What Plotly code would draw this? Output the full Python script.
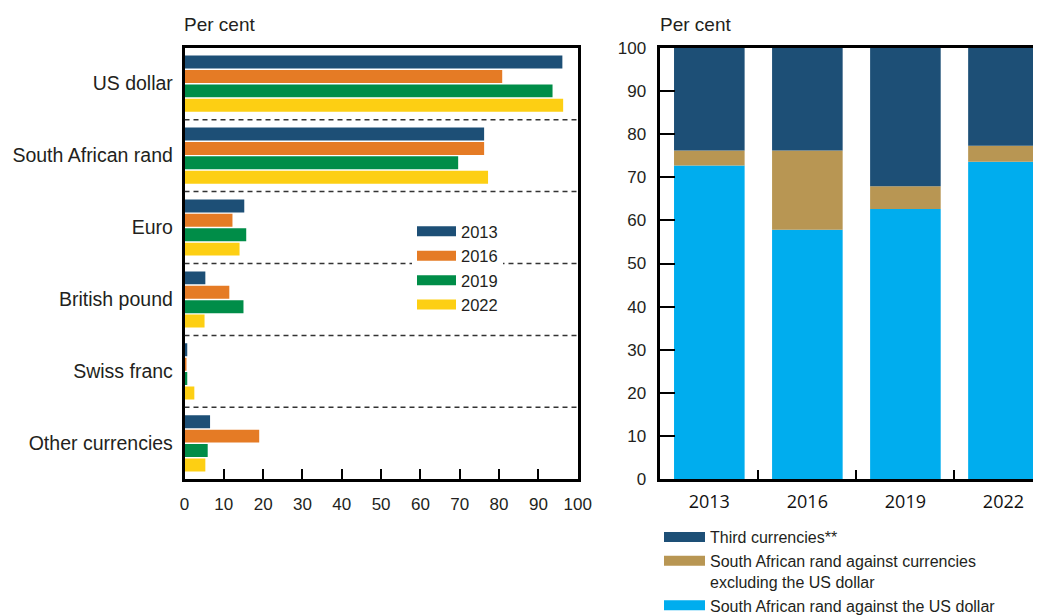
import plotly.graph_objects as go

# ---------------- data ----------------
currencies = ["US dollar", "South African rand", "Euro", "British pound", "Swiss franc", "Other currencies"]
years = ["2013", "2016", "2019", "2022"]
share_2013 = [96.1, 76.2, 15.2, 5.3, 0.7, 6.5]
share_2016 = [80.8, 76.2, 12.2, 11.4, 0.4, 19.0]
share_2019 = [93.6, 69.6, 15.7, 15.0, 0.7, 5.9]
share_2022 = [96.3, 77.2, 14.0, 5.1, 2.5, 5.3]

rand_vs_usd = [72.7, 57.8, 62.6, 73.6]
rand_vs_other = [3.5, 18.4, 5.3, 3.7]
third_currencies = [23.8, 23.8, 32.1, 22.7]

year_colors = ["#1d4f76", "#e57b25", "#008d48", "#fdcf13"]
stack_names = ["Third currencies**",
               "South African rand against currencies<br>excluding the US dollar",
               "South African rand against the US dollar"]
stack_colors = ["#1d4f76", "#b89653", "#00adee"]

FONT = "Liberation Sans"
TXT = "#231f20"
W, H, OFF = 1041, 616, 8  # page body margin offsets the figure by 8px


def px(x):
    return (x - OFF) / W


def py(y):
    return 1 - (y - OFF) / H


fig = go.Figure()

# ---------------- left chart ----------------
for yr, vals, col in zip(years, [share_2013, share_2016, share_2019, share_2022], year_colors):
    fig.add_trace(go.Bar(x=vals, y=currencies, orientation="h", marker=dict(color=col, line=dict(width=0)),
                         name=yr, showlegend=False, xaxis="x", yaxis="y"))
    fig.add_trace(go.Scatter(x=[None], y=[None], mode="lines", line=dict(color=col, width=10),
                             name=yr, legend="legend", xaxis="x", yaxis="y"))

# ---------------- right chart ----------------
base_other = rand_vs_usd
base_third = [a + b for a, b in zip(rand_vs_usd, rand_vs_other)]
fig.add_trace(go.Bar(x=years, y=rand_vs_usd, marker=dict(color=stack_colors[2], line=dict(width=0)),
                     width=0.72, offset=-0.36, showlegend=False, xaxis="x2", yaxis="y2"))
fig.add_trace(go.Bar(x=years, y=rand_vs_other, base=base_other, marker=dict(color=stack_colors[1], line=dict(width=0)),
                     width=0.72, offset=-0.36, showlegend=False, xaxis="x2", yaxis="y2"))
fig.add_trace(go.Bar(x=years, y=third_currencies, base=base_third, marker=dict(color=stack_colors[0], line=dict(width=0)),
                     width=0.72, offset=-0.36, showlegend=False, xaxis="x2", yaxis="y2"))
for nm, col in zip(stack_names, stack_colors):
    fig.add_trace(go.Scatter(x=[None], y=[None], mode="lines", line=dict(color=col, width=10),
                             name=nm, legend="legend2", xaxis="x2", yaxis="y2"))

# dashed separators
for i in range(len(currencies) - 1):
    fig.add_shape(type="line", xref="x", yref="y", x0=0, x1=100, y0=i + 0.5, y1=i + 0.5,
                  line=dict(color="#333333", width=1.5, dash="5px,4px"), layer="above")

ydom = [py(479.3), py(47.7)]

fig.update_layout(
    width=W, height=H,
    margin=dict(l=0, r=0, t=0, b=0, autoexpand=False),
    paper_bgcolor="white", plot_bgcolor="white",
    font=dict(family=FONT, size=17, color=TXT),
    barmode="group", bargap=0.2, bargroupgap=0.1,
    xaxis=dict(domain=[px(184.5), px(577.7)], range=[0, 100], tickvals=list(range(0, 101, 10)),
               showline=True, mirror=True, linecolor="black", linewidth=2.5,
               ticks="inside", ticklen=11, tickwidth=2, tickcolor="black",
               showgrid=False, zeroline=False, ticklabelstandoff=8, automargin=False,
               tickfont=dict(size=17, color=TXT), anchor="y"),
    yaxis=dict(domain=ydom, range=[5.5, -0.5], type="category",
               showline=True, mirror=True, linecolor="black", linewidth=2.5,
               ticks="", showgrid=False, zeroline=False, ticklabelstandoff=5, automargin=False,
               tickfont=dict(size=19.5, color=TXT), anchor="x"),
    xaxis2=dict(domain=[px(660.3), px(1041)], range=[-0.5, 3.383], type="category",
                showline=True, mirror=True, linecolor="black", linewidth=2.5,
                ticks="inside", ticklen=10, tickwidth=2, tickcolor="black", tickson="boundaries",
                showgrid=False, zeroline=False, ticklabelstandoff=4, automargin=False,
                tickfont=dict(family="Open Sans", size=18, color="#111111"), anchor="y2"),
    yaxis2=dict(domain=ydom, range=[0, 100], tickvals=list(range(0, 101, 10)),
                showline=True, linecolor="black", linewidth=2.5,
                ticks="inside", ticklen=15, tickwidth=2, tickcolor="black",
                showgrid=False, zeroline=False, ticklabelstandoff=8, automargin=False,
                tickfont=dict(size=17, color=TXT), anchor="x2"),
    legend=dict(x=px(412), y=py(214), xref="container", yref="container",
                xanchor="left", yanchor="top",
                bgcolor="white", borderwidth=0, itemwidth=39, font=dict(size=16.5, color=TXT),
                tracegroupgap=0),
    legend2=dict(x=px(659), y=py(520), xref="container", yref="container",
                 xanchor="left", yanchor="top",
                 bgcolor="rgba(0,0,0,0)", borderwidth=0, itemwidth=41, valign="top",
                 font=dict(size=16, color=TXT), tracegroupgap=0),
    annotations=[
        dict(text="Per cent", x=px(182), y=py(24), xref="paper", yref="paper",
             xanchor="left", yanchor="middle", showarrow=False, font=dict(size=19, color=TXT)),
        dict(text="Per cent", x=px(658), y=py(24), xref="paper", yref="paper",
             xanchor="left", yanchor="middle", showarrow=False, font=dict(size=19, color=TXT)),
    ],
)

fig.write_html("out.html")
